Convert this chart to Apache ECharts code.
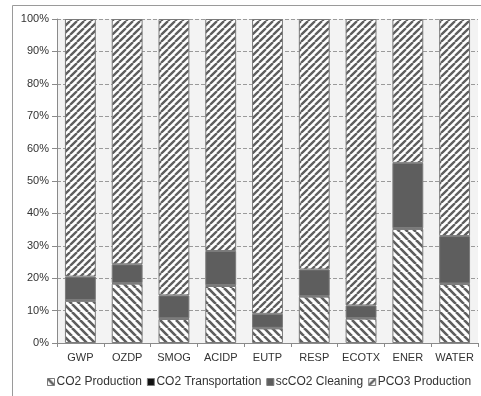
<!DOCTYPE html>
<html><head><meta charset="utf-8">
<script src="https://cdn.jsdelivr.net/npm/echarts@6/dist/echarts.min.js"></script>
<style>html,body{margin:0;padding:0;background:#fff}#c{width:481px;height:396px}</style>
</head><body><div id="c"></div>
<script>
var categories = ['GWP','OZDP','SMOG','ACIDP','EUTP','RESP','ECOTX','ENER','WATER'];
var co2Production = [13.0, 18.3, 7.4, 17.6, 4.5, 14.3, 7.5, 35.2, 18.2];
var co2Transportation = [0.2, 0.2, 0.2, 0.2, 0.2, 0.2, 0.2, 0.2, 0.2];
var scco2Cleaning = [7.3, 5.8, 7.1, 10.6, 4.3, 8.2, 3.9, 20.2, 14.6];
var pco3Production = [79.5, 75.7, 85.3, 71.6, 91.0, 77.3, 88.4, 44.4, 67.0];
var yTicks = ['0%','10%','20%','30%','40%','50%','60%','70%','80%','90%','100%'];

function stripe(size, dir, lw) {
  var c = document.createElement('canvas');
  c.width = size; c.height = size;
  var g = c.getContext('2d');
  g.fillStyle = '#ffffff'; g.fillRect(0,0,size,size);
  g.strokeStyle = '#5e5e5e'; g.lineWidth = lw;
  g.beginPath();
  for (var k = -1; k <= 1; k++) {
    if (dir > 0) { g.moveTo(k*size, size); g.lineTo(k*size + size, 0); }
    else { g.moveTo(k*size, 0); g.lineTo(k*size + size, size); }
  }
  g.stroke();
  return {image: c, repeat: 'repeat'};
}
var back = stripe(8, -1, 2.6);
var fwd = stripe(7, 1, 2.3);

var chart = echarts.init(document.getElementById('c'), null, {renderer:'canvas'});
var border = {borderColor:'#7a7a7a', borderWidth:1};
function ser(name, data, color) {
  return {name:name, type:'bar', stack:'s', data:data, barWidth:'66%',
    itemStyle:Object.assign({color:color}, border)};
}
chart.setOption({
  animation:false,
  textStyle:{fontFamily:'Liberation Sans, Arial, sans-serif'},
  grid:{left:57, right:3, top:19, bottom:53, show:true, backgroundColor:'#f3f3f3', borderWidth:0},
  graphic:[
    {type:'line', shape:{x1:12.5,y1:5.5,x2:481,y2:5.5}, style:{stroke:'#9a9a9a', lineWidth:1}},
    {type:'line', shape:{x1:12.5,y1:5.5,x2:12.5,y2:396}, style:{stroke:'#9a9a9a', lineWidth:1}}
  ],
  legend:{bottom:3, left:42, icon:'rect', itemWidth:7, itemHeight:7, itemGap:5,
    textStyle:{fontSize:12, color:'#333', padding:[0,0,0,-3]},
    data:['CO2 Production','CO2 Transportation','scCO2 Cleaning','PCO3 Production'],
    itemStyle:{borderColor:'#7a7a7a', borderWidth:1}},
  xAxis:{type:'category', data:categories,
    axisLine:{lineStyle:{color:'#8a8a8a'}},
    axisTick:{show:true, length:4, lineStyle:{color:'#8a8a8a'}},
    axisLabel:{fontSize:11, color:'#333', margin:9, interval:0}},
  yAxis:{type:'value', min:0, max:100, interval:10,
    axisLine:{show:true, lineStyle:{color:'#8a8a8a'}},
    axisTick:{show:true, length:5, lineStyle:{color:'#8a8a8a'}},
    axisLabel:{fontSize:11, color:'#333', margin:8, formatter:function(v){return yTicks[Math.round(v/10)];}},
    splitLine:{lineStyle:{color:'#9a9a9a', type:[4,2]}}},
  series:[
    ser('CO2 Production', co2Production, back),
    ser('CO2 Transportation', co2Transportation, '#111111'),
    ser('scCO2 Cleaning', scco2Cleaning, '#5e5e5e'),
    ser('PCO3 Production', pco3Production, fwd)
  ]
});
</script></body></html>
